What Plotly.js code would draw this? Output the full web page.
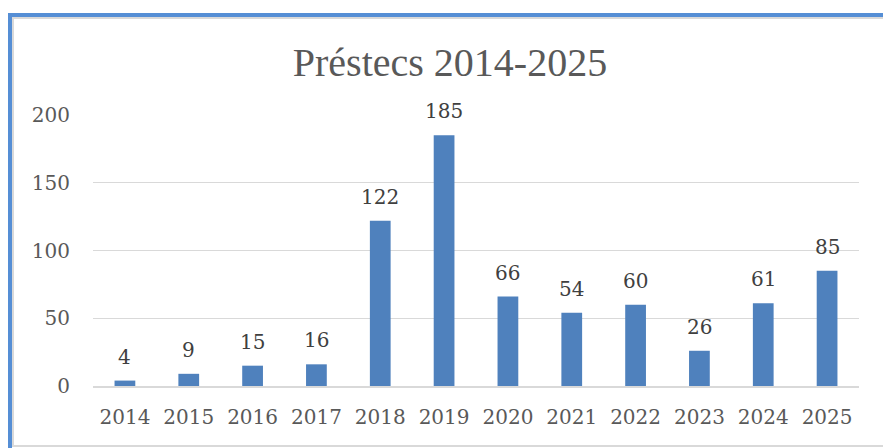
<!DOCTYPE html>
<html>
<head>
<meta charset="utf-8">
<script src="https://cdn.plot.ly/plotly-3.0.1.min.js"></script>
<style>
  html, body { margin:0; padding:0; background:#fff; width:883px; height:448px; overflow:hidden; }
  #chart { position:absolute; left:0; top:0; width:883px; height:448px; }
  #frame { position:absolute; left:8px; top:13px; width:875px; height:435px; box-sizing:border-box;
           border-top:4px solid #558ED5; border-left:4px solid #558ED5; pointer-events:none; }
  #inner { position:absolute; left:0; top:0; right:-10px; height:430px; box-sizing:border-box;
           border-top:2px solid #D9D9D9; border-left:2px solid #D9D9D9; border-bottom:2px solid #D9D9D9; }
</style>
</head>
<body>
<div id="chart"></div>
<div id="frame"><div id="inner"></div></div>
<script>
const years = ["2014","2015","2016","2017","2018","2019","2020","2021","2022","2023","2024","2025"];
const loans = [4, 9, 15, 16, 122, 185, 66, 54, 60, 26, 61, 85];
const yTicks = [0, 50, 100, 150, 200];
const chartTitle = "Préstecs 2014-2025";

const trace = {
  type: "bar",
  x: years,
  y: loans,
  marker: { color: "#4F81BD" },
  hoverinfo: "x+y"
};

// annotations placed by category index on the category axis
const annotations = years.map((yr, i) => ({
  x: i, y: loans[i], xref: "x", yref: "y",
  text: String(loans[i]), showarrow: false,
  yanchor: "bottom", yshift: 10,
  font: { family: "DejaVu Serif", size: 20, color: "#404040" }
}));

const layout = {
  width: 883, height: 448,
  margin: { l: 93, r: 24, t: 115, b: 62, pad: 0 },
  paper_bgcolor: "#ffffff", plot_bgcolor: "#ffffff",
  showlegend: false,
  bargap: 0.675,
  title: {
    text: chartTitle,
    font: { family: "Liberation Serif", size: 40, color: "#595959" },
    x: 450 / 883, xanchor: "center", xref: "container",
    y: 1 - 62 / 448, yanchor: "middle", yref: "container"
  },
  xaxis: {
    type: "category",
    range: [-0.5, years.length - 0.5],
    autorange: false,
    showgrid: false, zeroline: false,
    showline: true, linecolor: "#D9D9D9", linewidth: 1.5,
    ticks: "", ticklabelstandoff: 12,
    tickfont: { family: "DejaVu Serif", size: 20, color: "#595959" },
    fixedrange: true
  },
  yaxis: {
    range: [0, 200], autorange: false,
    tickvals: yTicks, ticktext: yTicks.map(String),
    showgrid: true, gridcolor: "#D9D9D9", gridwidth: 1,
    zeroline: false, showline: false,
    ticks: "", ticklabelstandoff: 22,
    tickfont: { family: "DejaVu Serif", size: 20, color: "#595959" },
    fixedrange: true
  },
  annotations: annotations
};

Plotly.newPlot("chart", [trace], layout, { displayModeBar: false, staticPlot: true });
</script>
</body>
</html>
